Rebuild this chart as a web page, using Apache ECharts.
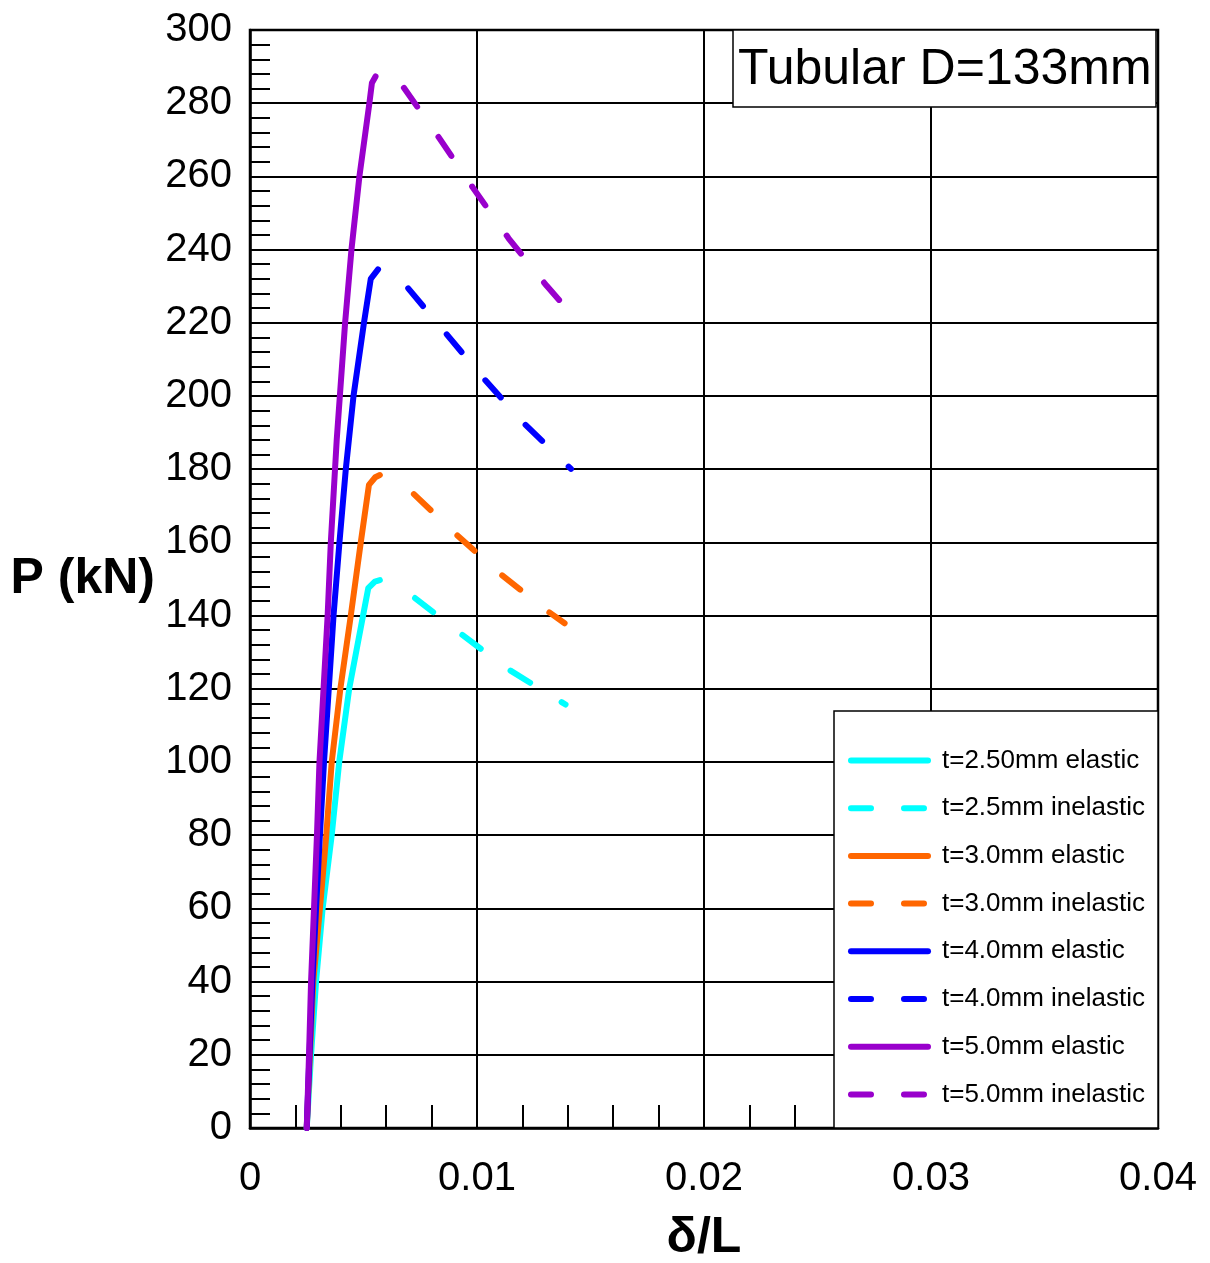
<!DOCTYPE html>
<html>
<head>
<meta charset="utf-8">
<script src="https://cdn.jsdelivr.net/npm/echarts@6/dist/echarts.min.js"></script>
<style>
html,body{margin:0;padding:0;background:#fff;}
#chart{width:1210px;height:1263px;}
</style>
</head>
<body>
<div id="chart"></div>
<script>
// ---- data ----
const seriesNames = [
  't=2.50mm elastic', 't=2.5mm inelastic',
  't=3.0mm elastic', 't=3.0mm inelastic',
  't=4.0mm elastic', 't=4.0mm inelastic',
  't=5.0mm elastic', 't=5.0mm inelastic'
];
const seriesColors = ['#00FFFF', '#FF6600', '#0000FF', '#9900CC'];

// t = 2.5 mm
const t25ElasticX = [0.0025, 0.00269, 0.00291, 0.0032, 0.0036, 0.00393, 0.00437, 0.00498, 0.00521, 0.0055, 0.00572];
const t25ElasticP = [0, 20, 40, 60, 80, 100, 120, 140, 147.5, 149.3, 149.7];
const t25InelasticX = [0.00727, 0.00925, 0.01131, 0.01345, 0.01390];
const t25InelasticP = [144.8, 135.2, 125.6, 117.4, 115.7];

// t = 3.0 mm
const t30ElasticX = [0.0025, 0.00264, 0.00279, 0.00308, 0.00336, 0.0036, 0.00398, 0.00444, 0.00488, 0.00524, 0.00552, 0.00572];
const t30ElasticP = [0, 20, 40, 60, 80, 100, 120, 140, 160, 175.7, 177.8, 178.4];
const t30InelasticX = [0.00722, 0.00903, 0.01097, 0.013, 0.01386];
const t30InelasticP = [173.2, 162.5, 151.7, 141.7, 137.9];

// t = 4.0 mm
const t40ElasticX = [0.0025, 0.00262, 0.00275, 0.00291, 0.00308, 0.00326, 0.00347, 0.00368, 0.00394, 0.00422, 0.00456, 0.00502, 0.00532, 0.00564];
const t40ElasticP = [0, 20, 40, 60, 80, 100, 120, 140, 160, 180, 200, 220, 232, 234.6];
const t40InelasticX = [0.00697, 0.00863, 0.01035, 0.01211, 0.01414];
const t40InelasticP = [229.4, 217.1, 204.4, 192.3, 180.1];

// t = 5.0 mm
const t50ElasticX = [0.0025, 0.0026, 0.00269, 0.00282, 0.00295, 0.00306, 0.00324, 0.00342, 0.00356, 0.00382, 0.00419, 0.00447, 0.00482, 0.00526, 0.00537, 0.00553];
const t50ElasticP = [0, 20, 40, 60, 80, 100, 120, 140, 160, 188, 220, 240, 260, 280, 285.5, 287.3];
const t50InelasticX = [0.00678, 0.00829, 0.00981, 0.01139, 0.01307, 0.01385];
const t50InelasticP = [284.2, 270.9, 257.0, 243.1, 230.1, 224.6];

const xTickLabels = ['0', '0.01', '0.02', '0.03', '0.04'];
const titleText = 'Tubular D=133mm';
const xName = 'δ/L';
const yName = 'P (kN)';

// ---- build ----
const FONT = '"Liberation Sans", Arial, Helvetica, sans-serif';
const zip = (xs, ys) => xs.map((x, i) => [x, ys[i]]);
const curves = [
  [t25ElasticX, t25ElasticP], [t25InelasticX, t25InelasticP],
  [t30ElasticX, t30ElasticP], [t30InelasticX, t30InelasticP],
  [t40ElasticX, t40ElasticP], [t40InelasticX, t40InelasticP],
  [t50ElasticX, t50ElasticP], [t50InelasticX, t50InelasticP]
];
const DASH = [23, 37];
const series = curves.map((c, i) => {
  const dashed = i % 2 === 1;
  return {
    name: seriesNames[i],
    type: 'line',
    data: zip(c[0], c[1]),
    symbol: 'none',
    showSymbol: false,
    smooth: false,
    animation: false,
    lineStyle: {
      color: seriesColors[Math.floor(i / 2)],
      width: 6,
      type: dashed ? DASH : 'solid',
      cap: 'round',
      join: 'round'
    },
    itemStyle: { color: seriesColors[Math.floor(i / 2)] },
    emphasis: { disabled: true }
  };
});

const chart = echarts.init(document.getElementById('chart'), null, { renderer: 'canvas' });
chart.setOption({
  animation: false,
  backgroundColor: '#fff',
  title: {
    text: titleText,
    left: 733, top: 30,
    padding: [15, 5, 12, 5],
    borderColor: '#000', borderWidth: 1.5,
    backgroundColor: '#fff',
    textStyle: { fontSize: 50, fontWeight: 'normal', fontFamily: FONT, color: '#000' }
  },
  legend: {
    orient: 'vertical',
    left: 834, top: 711,
    padding: [36.5, 13, 20.5, 14],
    itemGap: 21.7,
    itemWidth: 77, itemHeight: 14,
    borderColor: '#000', borderWidth: 1.5,
    backgroundColor: '#fff',
    selectedMode: false,
    textStyle: { fontSize: 26, fontFamily: FONT, color: '#000', padding: [0, 0, 0, 9] },
    lineStyle: { width: 6 },
    itemStyle: { opacity: 0, borderWidth: 0 },
    data: seriesNames.map((n, i) => ({
      name: n,
      itemStyle: { opacity: 0, borderWidth: 0 },
      lineStyle: { width: 6, type: i % 2 === 1 ? [20, 33] : 'solid', cap: 'round' }
    }))
  },
  grid: {
    left: 250, right: 52, top: 30, bottom: 135,
    containLabel: false,
    outerBoundsMode: 'none',
    show: true, borderColor: '#000', borderWidth: 2.5, backgroundColor: 'transparent'
  },
  xAxis: {
    type: 'value', min: 0, max: 0.04, interval: 0.01,
    name: xName, nameLocation: 'middle', nameGap: 85,
    nameTextStyle: { fontSize: 50, fontWeight: 'bold', fontFamily: FONT, color: '#000' },
    axisLine: { show: true, lineStyle: { color: '#000', width: 2.5 } },
    axisTick: { show: true, inside: true, length: 23, lineStyle: { color: '#000', width: 2 } },
    minorTick: { show: true, splitNumber: 5, length: 23, lineStyle: { color: '#000', width: 2 } },
    splitLine: { show: true, lineStyle: { color: '#000', width: 2 } },
    axisLabel: {
      fontSize: 40, fontFamily: FONT, color: '#000', margin: 31,
      formatter: v => xTickLabels[Math.round(v / 0.01)]
    }
  },
  yAxis: {
    type: 'value', min: 0, max: 300, interval: 20,
    name: yName, nameLocation: 'middle', nameGap: 95, nameRotate: 0,
    nameTextStyle: { fontSize: 50, fontWeight: 'bold', fontFamily: FONT, color: '#000' },
    axisLine: { show: true, lineStyle: { color: '#000', width: 2.5 } },
    axisTick: { show: true, inside: true, length: 20, lineStyle: { color: '#000', width: 2 } },
    minorTick: { show: true, splitNumber: 5, length: 20, lineStyle: { color: '#000', width: 2 } },
    splitLine: { show: true, lineStyle: { color: '#000', width: 2 } },
    axisLabel: { fontSize: 40, fontFamily: FONT, color: '#000', margin: 18, padding: [14, 0, 0, 0] }
  },
  series: series
});
</script>
</body>
</html>
